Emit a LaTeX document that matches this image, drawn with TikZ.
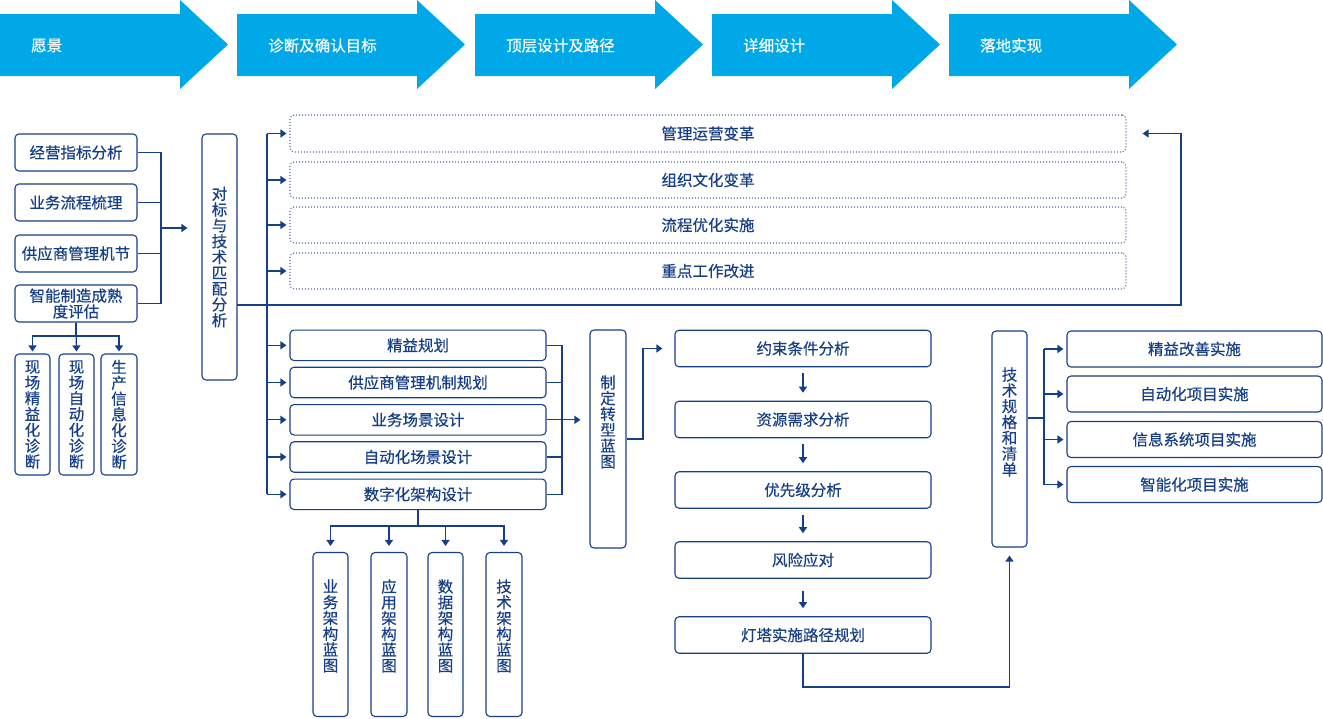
\documentclass[tikz,border=0pt]{standalone}
\usepackage{fontspec}
\newfontfamily\cjk[FakeBold=0.5]{Noto Sans CJK SC}
\usetikzlibrary{arrows.meta}
\definecolor{navy}{HTML}{173F87}
\definecolor{dotc}{HTML}{4D6A9E}
\definecolor{sky}{HTML}{00A8E8}
\tikzset{
  txt/.style={font=\cjk\fontsize{15.5}{15.8}\selectfont, text=navy, inner sep=0pt, align=center},
  box/.style={txt, draw=navy, line width=1.1pt, rounded corners=4pt},
  dbox/.style={txt, draw=dotc, line width=1.1pt, dash pattern=on 1pt off 2pt, rounded corners=4pt},
  conn/.style={draw=navy, line width=1.2pt},
  arr/.style={conn, -{Triangle[length=6pt,width=8pt]}},
  banner/.style={fill=sky},
  bannertxt/.style={font=\cjk\fontsize{15.5}{15.8}\selectfont, text=white, inner sep=0pt, anchor=west}
}
\begin{document}
\begin{tikzpicture}[x=1pt,y=-1pt]
\useasboundingbox (0,0) rectangle (1323,718);

% top banner arrows
\foreach \x/\t [count=\i] in {0/愿景,237/诊断及确认目标,475/顶层设计及路径,712/详细设计,949/落地实现}{
  \fill[banner] (\x,14) -- (\x+180,14) -- (\x+180,0) -- (\x+228,44.5) -- (\x+180,89) -- (\x+180,76) -- (\x,76) -- cycle;
  \node[bannertxt] (h\i) at (\x+31,45.5) {\t};
}

% left column
\node[box, minimum width=122, minimum height=37] (b1) at (76,152.5) {经营指标分析};
\node[box, minimum width=122, minimum height=37] (b2) at (76,202.5) {业务流程梳理};
\node[box, minimum width=122, minimum height=37] (b3) at (76,253.5) {供应商管理机节};
\node[box, minimum width=122, minimum height=37] (b4) at (76,303.5) {智能制造成熟\\度评估};

\node[box, minimum width=35, minimum height=121] (c1) at (32.5,414.5) {现\\场\\精\\益\\化\\诊\\断};
\node[box, minimum width=35, minimum height=121] (c2) at (76.5,414.5) {现\\场\\自\\动\\化\\诊\\断};
\node[box, minimum width=36, minimum height=121] (c3) at (119,414.5) {生\\产\\信\\息\\化\\诊\\断};

\coordinate (jl) at (161,228);
\draw[conn] (b1.east) -- (b1.east -| jl) -- (b4.east -| jl) -- (b4.east);
\draw[conn] (b2.east) -- (b2.east -| jl);
\draw[conn] (b3.east) -- (b3.east -| jl);

\coordinate (cj) at (76,336);
\draw[conn] (b4.south) -- (cj);
\draw[arr, shorten >=2pt] (cj) -| (c1.north);
\draw[arr, shorten >=2pt] (cj) -| (c3.north);
\draw[arr, shorten >=2pt] (b4.south) -- (c2.north);

% benchmark box
\node[box, minimum width=35, minimum height=246] (db) at (219.5,257) {对\\标\\与\\技\\术\\匹\\配\\分\\析};
\draw[arr, shorten >=14pt] (jl) -- (jl -| db.west);

% dotted boxes
\node[dbox, minimum width=836, minimum height=37] (g1) at (708,133.5) {管理运营变革};
\node[dbox, minimum width=836, minimum height=36] (g2) at (708,180) {组织文化变革};
\node[dbox, minimum width=836, minimum height=36] (g3) at (708,225) {流程优化实施};
\node[dbox, minimum width=836, minimum height=36] (g4) at (708,271) {重点工作改进};

% lower planning boxes
\node[box, minimum width=256, minimum height=30.5] (e1) at (418,345.3) {精益规划};
\node[box, minimum width=256, minimum height=30.5] (e2) at (418,382.5) {供应商管理机制规划};
\node[box, minimum width=256, minimum height=30.5] (e3) at (418,419.8) {业务场景设计};
\node[box, minimum width=256, minimum height=30.5] (e4) at (418,457) {自动化场景设计};
\node[box, minimum width=256, minimum height=30.5] (e5) at (418,494.3) {数字化架构设计};

% trunk
\coordinate (tt) at (267,134);
\coordinate (tb) at (267,494.3);
\draw[conn] (tt) -- (tb);
\foreach \n in {g1,g2,g3,g4,e1,e2,e3,e4,e5}{
  \draw[arr, shorten >=3pt] (\n.west -| tt) -- (\n.west);
}
\coordinate (d1) at (237,305);
\coordinate (d2) at (1181,305);
\draw[arr, shorten >=16pt] (d1) -- (d2) |- (g1.east);

% bracket to blueprint
\node[box, minimum width=36, minimum height=218] (zd) at (608,439) {};
\node[txt] (zdt) at (608,422) {制\\定\\转\\型\\蓝\\图};
\coordinate (rb) at (562,420);
\draw[conn] (e1.east) -- (e1.east -| rb) -- (e5.east -| rb) -- (e5.east);
\foreach \n in {e2,e3,e4}{\draw[conn] (\n.east) -- (\n.east -| rb);}
\draw[arr, shorten >=9pt] (e3.east) -- (e3.east -| zd.west);

% bottom architecture boxes
\node[box, minimum width=35, minimum height=164] (f1) at (330.5,634.5) {};
\node[box, minimum width=36, minimum height=164] (f2) at (389,634.5) {};
\node[box, minimum width=35, minimum height=164] (f3) at (445.5,634.5) {};
\node[box, minimum width=36, minimum height=164] (f4) at (504,634.5) {};
\node[txt] (f1t) at (330.5,626) {业\\务\\架\\构\\蓝\\图};
\node[txt] (f2t) at (389,626) {应\\用\\架\\构\\蓝\\图};
\node[txt] (f3t) at (445.5,626) {数\\据\\架\\构\\蓝\\图};
\node[txt] (f4t) at (504,626) {技\\术\\架\\构\\蓝\\图};
\coordinate (fj) at (418,526);
\draw[conn] (e5.south) -- (fj);
\foreach \n in {f1,f2,f3,f4}{\draw[arr, shorten >=6pt] (fj) -| (\n.north);}

% detail design column
\node[box, minimum width=256, minimum height=36.5] (y1) at (803,348.5) {约束条件分析};
\node[box, minimum width=256, minimum height=36.5] (y2) at (803,419.5) {资源需求分析};
\node[box, minimum width=256, minimum height=36.5] (y3) at (803,490) {优先级分析};
\node[box, minimum width=256, minimum height=36.5] (y4) at (803,560) {风险应对};
\node[box, minimum width=256, minimum height=36.5] (y5) at (803,635) {灯塔实施路径规划};
\coordinate (zj) at (643,439);
\draw[arr, shorten >=12pt] (zd.east) -- (zj) |- (y1.west);
\draw[arr, shorten <=6pt, shorten >=8pt] (y1.south) -- (y2.north);
\draw[arr, shorten <=6pt, shorten >=8pt] (y2.south) -- (y3.north);
\draw[arr, shorten <=6pt, shorten >=8pt] (y3.south) -- (y4.north);
\draw[arr, shorten <=12pt, shorten >=8pt] (y4.south) -- (y5.north);

% implementation
\node[box, minimum width=35, minimum height=216] (js) at (1009.5,439) {};
\node[txt] (jst) at (1009.5,422) {技\\术\\规\\格\\和\\清\\单};
\coordinate (lj) at (803,687);
\draw[arr, shorten >=8pt] (y5.south) -- (lj) -| (js.south);

\node[box, minimum width=255, minimum height=36] (r1) at (1194.5,349) {精益改善实施};
\node[box, minimum width=255, minimum height=36] (r2) at (1194.5,394) {自动化项目实施};
\node[box, minimum width=255, minimum height=36] (r3) at (1194.5,439.5) {信息系统项目实施};
\node[box, minimum width=255, minimum height=36] (r4) at (1194.5,484.5) {智能化项目实施};
\coordinate (jr) at (1044,418);
\draw[conn] (js.east |- jr) -- (jr);
\draw[conn] (r1.west -| jr) -- (r4.west -| jr);
\foreach \n in {r1,r2,r3,r4}{\draw[arr, shorten >=3pt] (\n.west -| jr) -- (\n.west);}
\end{tikzpicture}
\end{document}
